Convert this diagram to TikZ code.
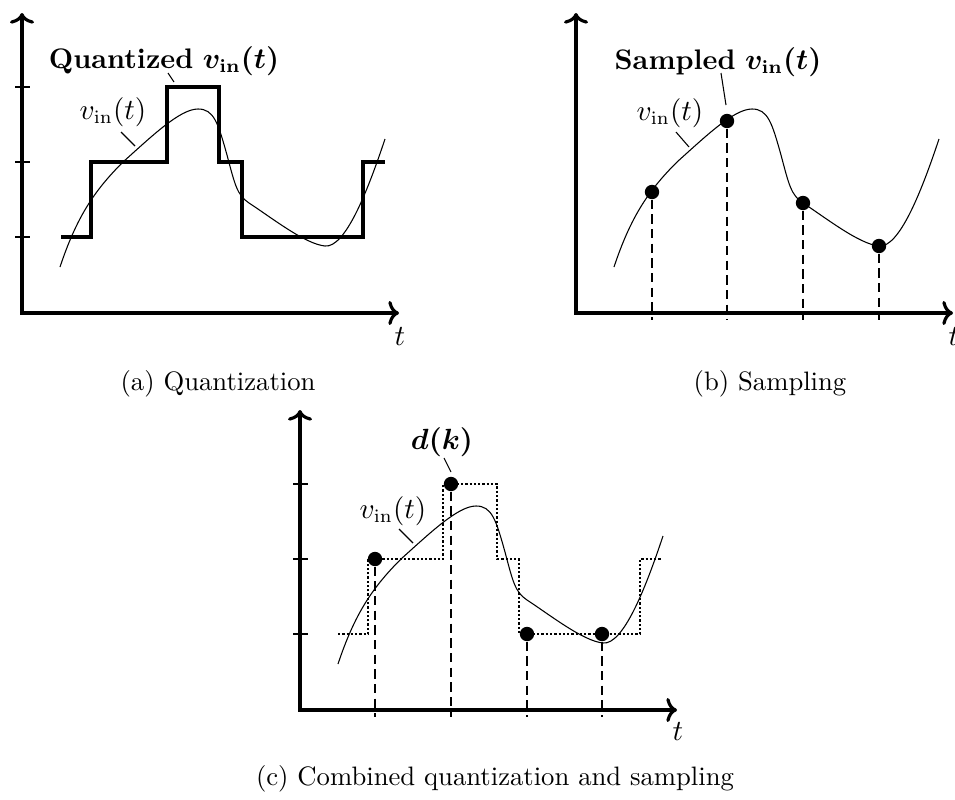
\documentclass[tikz,border=0pt]{standalone}
\usepackage{amsmath}
\usetikzlibrary{arrows.meta}
\tikzset{
  cmtip/.tip={Computer Modern Rightarrow[length=4pt,width=9pt]},
  axisline/.style={line width=1.2pt, cmtip-cmtip, line join=miter},
  tickline/.style={line width=0.5pt},
  quantline/.style={line width=1.2pt, line join=miter},
  quantdots/.style={line width=0.85pt, dash pattern=on 0.85pt off 0.75pt},
  signal/.style={line width=0.4pt},
  sampdash/.style={line width=0.4pt, dash pattern=on 3.5pt off 2pt},
  leader/.style={line width=0.4pt},
  sdot/.style={circle, fill=black, inner sep=0pt, minimum size=5.4pt},
  lbl/.style={inner sep=0pt, anchor=center},
  plbl/.style={inner sep=0pt, anchor=center, font=\fontsize{10.6}{12.7}\selectfont},
}
\newcommand{\bvin}{\boldsymbol{v_{\mathrm{in}}(t)}}
\begin{document}
\begin{tikzpicture}[x=0.375pt, y=0.375pt]
\path[use as bounding box] (0,0) rectangle (955,799);

% ---------------- (a) Quantization ----------------
\begin{scope}[shift={(22,486)}]
  \coordinate (aO) at (0,0);
  \coordinate (aY) at (0,300);
  \coordinate (aX) at (377,0);
  \draw[axisline] (aY) -- (aO) -- (aX);
  \foreach \yy/\nm in {76/1,151/2,226/3}{
    \coordinate (atl\nm) at (-7,\yy); \coordinate (atr\nm) at (8,\yy);
    \draw[tickline] (atl\nm) -- (atr\nm);
  }
  \node[plbl] (aT) at (378,-24) {$t$};
  \draw[quantline] (39,76) -- (69,76) -- (69,151) -- (145,151) -- (145,226) -- (197,226)
        -- (197,151) -- (220,151) -- (220,76) -- (341,76) -- (341,151) -- (363,151);
  \draw[signal] (38,46) .. controls (55,97) and (73,123) .. (101,151)
     .. controls (130,177) and (158,204) .. (176,204)
     .. controls (192,204) and (196,190) .. (205,158)
     .. controls (213,128) and (215,118) .. (227,110)
     .. controls (250,95) and (283,69) .. (303,67)
     .. controls (323,65) and (345,120) .. (363,174);
  \node[plbl] (avin) at (91,201) {$v_{\mathrm{in}}(t)$};
  \coordinate (avin1) at (99,181); \coordinate (avin2) at (113,167);
  \draw[leader] (avin1) -- (avin2);
  \node[plbl] (aq) at (142,252) {{\bfseries Quantized} $\bvin$};
  \coordinate (aq1) at (146,240); \coordinate (aq2) at (152,231);
  \draw[leader] (aq1) -- (aq2);
\end{scope}

% ---------------- (b) Sampling ----------------
\begin{scope}[shift={(576,486)}]
  \coordinate (bO) at (0,0);
  \coordinate (bY) at (0,300);
  \coordinate (bX) at (377,0);
  \draw[axisline] (bY) -- (bO) -- (bX);
  \node[plbl] (bT) at (378,-24) {$t$};
  \draw[signal] (38,46) .. controls (55,97) and (73,123) .. (101,151)
     .. controls (130,177) and (158,204) .. (176,204)
     .. controls (192,204) and (196,190) .. (205,158)
     .. controls (213,128) and (215,118) .. (227,110)
     .. controls (250,95) and (283,69) .. (303,67)
     .. controls (323,65) and (345,120) .. (363,174);
  \foreach \xx/\yy/\nm in {76/121/1,151/192/2,227/110/3,303/67/4}{
    \node[sdot] (bd\nm) at (\xx,\yy) {};
    \coordinate (bb\nm) at (\xx,-7);
    \draw[sampdash] (bd\nm) -- (bb\nm);
  }
  \node[plbl] (bvin) at (94,200) {$v_{\mathrm{in}}(t)$};
  \coordinate (bvin1) at (100,181); \coordinate (bvin2) at (113,166);
  \draw[leader] (bvin1) -- (bvin2);
  \node[plbl] (bs) at (142,251) {{\bfseries Sampled} $\bvin$};
  \coordinate (bs1) at (145,240); \coordinate (bs2) at (150,208);
  \draw[leader] (bs1) -- (bs2);
\end{scope}

% ---------------- (c) Combined ----------------
\begin{scope}[shift={(300,89)}]
  \coordinate (cO) at (0,0);
  \coordinate (cY) at (0,300);
  \coordinate (cX) at (377,0);
  \draw[axisline] (cY) -- (cO) -- (cX);
  \foreach \yy/\nm in {76/1,151/2,226/3}{
    \coordinate (ctl\nm) at (-7,\yy); \coordinate (ctr\nm) at (8,\yy);
    \draw[tickline] (ctl\nm) -- (ctr\nm);
  }
  \node[plbl] (cT) at (378,-22) {$t$};
  \draw[quantdots] (38,76) -- (68,76) -- (68,151) -- (143,151) -- (143,226) -- (197,226)
        -- (197,151) -- (219,151) -- (219,76) -- (340,76) -- (340,151) -- (361,151);
  \draw[signal] (38,46) .. controls (55,97) and (73,123) .. (101,151)
     .. controls (130,177) and (158,204) .. (176,204)
     .. controls (192,204) and (196,190) .. (205,158)
     .. controls (213,128) and (215,118) .. (227,110)
     .. controls (250,95) and (283,69) .. (303,67)
     .. controls (323,65) and (345,120) .. (363,174);
  \foreach \xx/\yy/\nm in {75/151/1,151/226/2,227/76/3,302/76/4}{
    \node[sdot] (cd\nm) at (\xx,\yy) {};
    \coordinate (cb\nm) at (\xx,-7);
    \draw[sampdash] (cd\nm) -- (cb\nm);
  }
  \node[plbl] (cvin) at (93,199) {$v_{\mathrm{in}}(t)$};
  \coordinate (cvin1) at (99,181); \coordinate (cvin2) at (113,167);
  \draw[leader] (cvin1) -- (cvin2);
  \node[plbl] (cdk) at (142,268) {$\boldsymbol{d(k)}$};
  \coordinate (cdk1) at (144,252); \coordinate (cdk2) at (151,238);
  \draw[leader] (cdk1) -- (cdk2);
\end{scope}

% ---------------- captions ----------------
\node[lbl] (capa) at (218,415) {(a) Quantization};
\node[lbl] (capb) at (770,415) {(b) Sampling};
\node[lbl] (capc) at (495,20) {(c) Combined quantization and sampling};
\end{tikzpicture}
\end{document}
